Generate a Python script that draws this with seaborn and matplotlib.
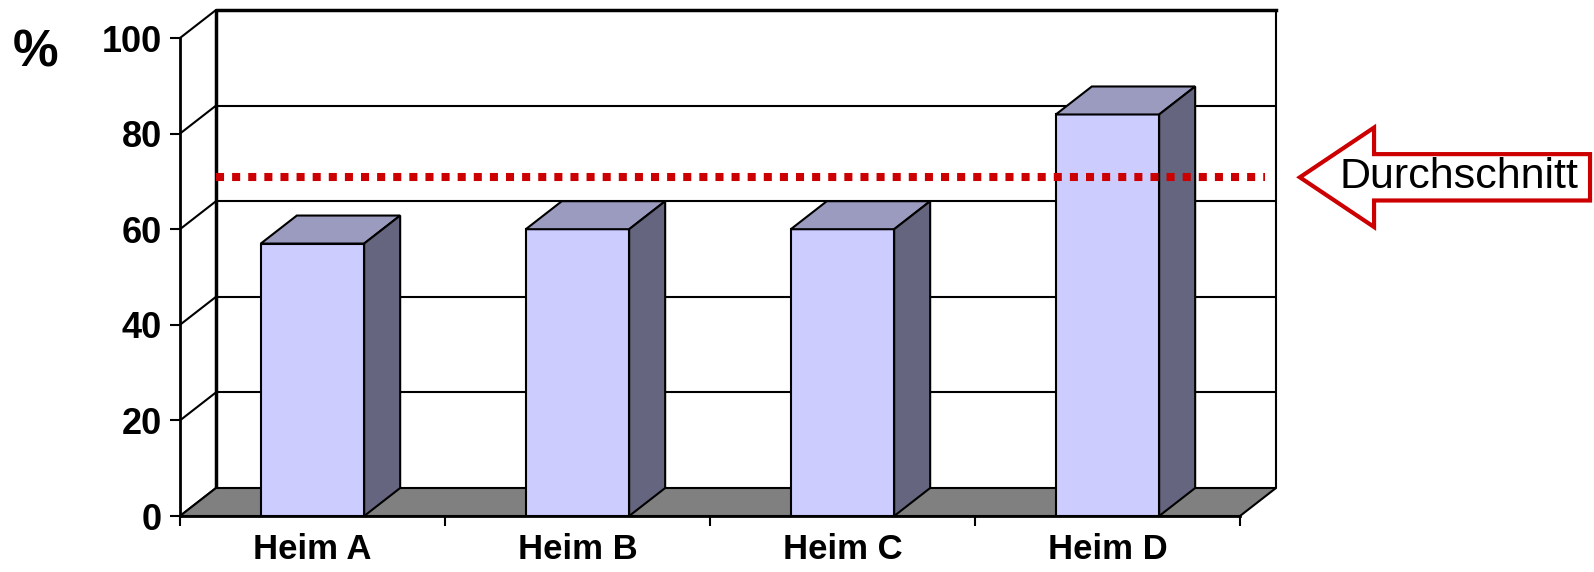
import matplotlib
matplotlib.use("Agg")
import matplotlib.pyplot as plt
from matplotlib.patches import Polygon
import pandas as pd
import seaborn as sns

# data
heime = ["Heim A", "Heim B", "Heim C", "Heim D"]
anteil = [57, 60, 60, 84]
durchschnitt = 65
y_ticks = [0, 20, 40, 60, 80, 100]

front_col = "#CCCCFF"
top_col = "#9B9BBF"
side_col = "#65657F"
floor_col = "#808080"
avg_red = "#CC0000"

sns.set_style("white")
plt.rcParams["font.family"] = ["Liberation Sans", "DejaVu Sans"]
plt.rcParams["text.color"] = "black"

W, H = 1594, 572
fig = plt.figure(figsize=(W / 100, H / 100), dpi=100)
ax = fig.add_axes([180 / W, 56 / H, 1060 / W, 478 / H])

df = pd.DataFrame({"heim": heime, "anteil": anteil})
sns.barplot(data=df, x="heim", y="anteil", color=front_col, saturation=1,
            width=0.39, edgecolor="black", linewidth=1.5, ax=ax)
bars = list(ax.patches)

ax.set_xlim(-0.5, 3.5)
ax.set_ylim(0, 100)

# depth of the fake 3d box, in data units
dx = 36 / 265
dy = 28 / 4.78
x0, x1 = -0.5, 3.5

# back wall + floor
ax.add_patch(Polygon([(x0 + dx, dy), (x1 + dx, dy), (x1 + dx, 100 + dy), (x0 + dx, 100 + dy)],
                     closed=True, facecolor="white", edgecolor="none", zorder=0, clip_on=False))
ax.plot([x0 + dx, x0 + dx, x1 + dx], [dy, 100 + dy, 100 + dy], color="black", lw=2.5,
        zorder=0.6, clip_on=False, solid_capstyle="projecting")
ax.plot([x1 + dx, x1 + dx], [dy, 100 + dy], color="black", lw=1.5, zorder=0.6, clip_on=False)
ax.add_patch(Polygon([(x0, 0), (x1, 0), (x1 + dx, dy), (x0 + dx, dy)], closed=True,
                     facecolor=floor_col, edgecolor="black", lw=1.5, zorder=0.7, clip_on=False))

# gridlines on back wall, diagonals on the left wall
for v in y_ticks[1:-1]:
    ax.plot([x0 + dx, x1 + dx], [v + dy, v + dy], color="black", lw=1.5, zorder=0.5,
            clip_on=False)
for v in y_ticks:
    ax.plot([x0, x0 + dx], [v, v + dy], color="black", lw=1.5, zorder=0.5, clip_on=False)

# top and side faces of the columns
for p in bars:
    bx, bw, bh = p.get_x(), p.get_width(), p.get_height()
    p.set_zorder(2)
    ax.add_patch(Polygon([(bx, bh), (bx + bw, bh), (bx + bw + dx, bh + dy), (bx + dx, bh + dy)],
                         closed=True, facecolor=top_col, edgecolor="black", lw=1.5, zorder=2,
                         clip_on=False))
    ax.add_patch(Polygon([(bx + bw, 0), (bx + bw + dx, dy), (bx + bw + dx, bh + dy), (bx + bw, bh)],
                         closed=True, facecolor=side_col, edgecolor="black", lw=1.5, zorder=2,
                         clip_on=False))

# average line + arrow label
ya = durchschnitt + dy
ax.plot([x0 + dx, x1 + dx - 0.04], [ya, ya], color=avg_red, lw=5.8, linestyle=(0, (1, 1)),
        dash_capstyle="butt", zorder=6, clip_on=False)
xr = x1 + dx
arrow = [(xr + 0.09, ya), (xr + 0.37, ya + 10.4), (xr + 0.37, ya + 4.85), (xr + 1.185, ya + 4.85),
         (xr + 1.185, ya - 4.85), (xr + 0.37, ya - 4.85), (xr + 0.37, ya - 10.4)]
ax.add_patch(Polygon(arrow, closed=True, facecolor="white", edgecolor=avg_red, lw=3,
                     zorder=6, clip_on=False, joinstyle="miter"))
ax.text(xr + 0.69, ya, "Durchschnitt", fontsize=31, ha="center", va="center", zorder=7,
        color="black")

# axes styling
for s in ["top", "right"]:
    ax.spines[s].set_visible(False)
for s in ["left", "bottom"]:
    ax.spines[s].set_color("black")
    ax.spines[s].set_linewidth(2)
    ax.spines[s].set_zorder(3)

ax.set_yticks(y_ticks)
ax.set_yticklabels([str(v) for v in y_ticks], fontsize=26, fontweight="bold")
ax.set_xticks(range(len(heime)))
ax.set_xticklabels(heime, fontsize=25, fontweight="bold")
ax.set_xticks([-0.5, 0.5, 1.5, 2.5, 3.5], minor=True)
ax.tick_params(axis="y", left=True, length=7, width=1.5, pad=6, colors="black")
ax.tick_params(axis="x", which="major", bottom=True, length=0, pad=12, colors="black")
ax.tick_params(axis="x", which="minor", bottom=True, length=7, width=1.5, colors="black")
ax.set_xlabel("")
ax.set_ylabel("")

fig.text(36 / W, 1 - 53 / H, "%", fontsize=37, fontweight="bold", ha="center", va="center",
         color="black")

fig.savefig("out.png", dpi=100)
